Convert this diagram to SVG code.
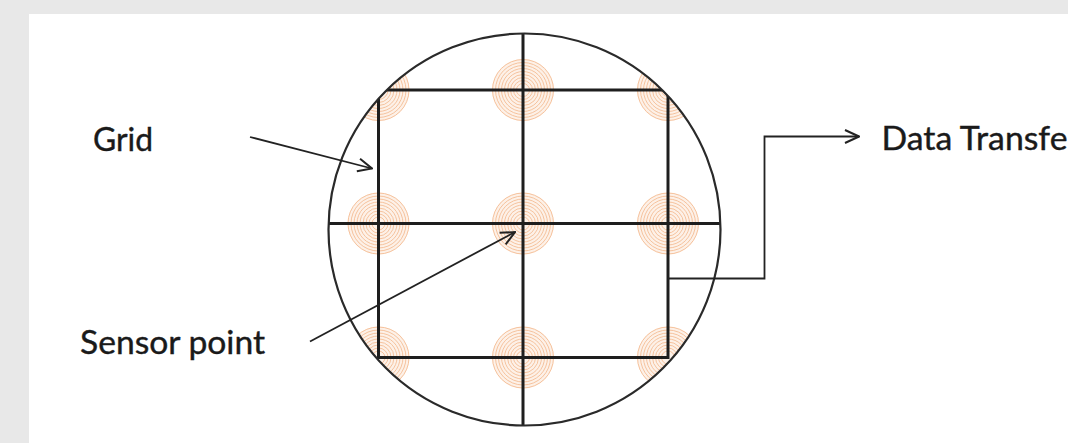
<svg xmlns="http://www.w3.org/2000/svg" width="1068" height="443" viewBox="0 0 1068 443">
<style>
.lbl{font-family:"Lato","Open Sans","Liberation Sans",sans-serif;font-size:32px;fill:#1a1a1a;stroke:#1a1a1a;stroke-width:0.4}
.grid{stroke:#1e1e1e;stroke-width:3;fill:none}
.ring{fill:none;stroke:#f5c29d;stroke-width:1}
.arr{stroke:#222;stroke-width:1.8;fill:none}
</style>
<defs>
<clipPath id="cc"><circle cx="524.5" cy="229.5" r="196"/></clipPath>
<g id="sensor">
<circle r="31" fill="#fdf1e8"/>
<circle class="ring" r="30.5"/><circle class="ring" r="27.5"/><circle class="ring" r="24.5"/><circle class="ring" r="21.5"/><circle class="ring" r="18.5"/><circle class="ring" r="15.5"/><circle class="ring" r="12.5"/><circle class="ring" r="9.5"/><circle class="ring" r="6.5"/>
</g>
<marker id="ah" viewBox="0 0 16 16" refX="15" refY="8" markerWidth="16" markerHeight="16" markerUnits="userSpaceOnUse" orient="auto">
<path d="M1,1.5 L15,8 L1,14.5" fill="none" stroke="#222" stroke-width="2"/>
</marker>
</defs>
<rect width="1068" height="443" fill="#e8e8e8"/>
<rect x="29" y="14" width="1039" height="429" fill="#fff"/>
<g id="sensors" clip-path="url(#cc)">
<use href="#sensor" x="378.5" y="90"/><use href="#sensor" x="523" y="90"/><use href="#sensor" x="668" y="90"/>
<use href="#sensor" x="378.5" y="223.5"/><use href="#sensor" x="523" y="223.5"/><use href="#sensor" x="668" y="223.5"/>
<use href="#sensor" x="378.5" y="357.5"/><use href="#sensor" x="523" y="357.5"/><use href="#sensor" x="668" y="357.5"/>
</g>
<g id="grid" clip-path="url(#cc)">
<rect class="grid" x="378.5" y="90" width="289.5" height="267.5"/>
<line class="grid" x1="523" y1="20" x2="523" y2="440"/>
<line class="grid" x1="320" y1="223.5" x2="730" y2="223.5"/>
</g>
<circle id="boundary" cx="524.5" cy="229.5" r="196" fill="none" stroke="#2a2a2a" stroke-width="2.2"/>
<g id="connectors">
<line class="arr" x1="250" y1="137" x2="372" y2="168.5" marker-end="url(#ah)"/>
<line class="arr" x1="310" y1="341.5" x2="515" y2="232" marker-end="url(#ah)"/>
<polyline class="arr" points="668,278.5 764.5,278.5 764.5,136.5 859,136.5" marker-end="url(#ah)"/>
</g>
<g id="label-grid"><text class="lbl" x="93" y="150.5" textLength="60" lengthAdjust="spacingAndGlyphs">Grid</text></g>
<g id="label-sensor"><text class="lbl" x="80" y="353.5" textLength="185" lengthAdjust="spacingAndGlyphs">Sensor point</text></g>
<g id="label-data"><text class="lbl" x="881.5" y="150" textLength="186" lengthAdjust="spacingAndGlyphs">Data Transfe</text></g>
</svg>
